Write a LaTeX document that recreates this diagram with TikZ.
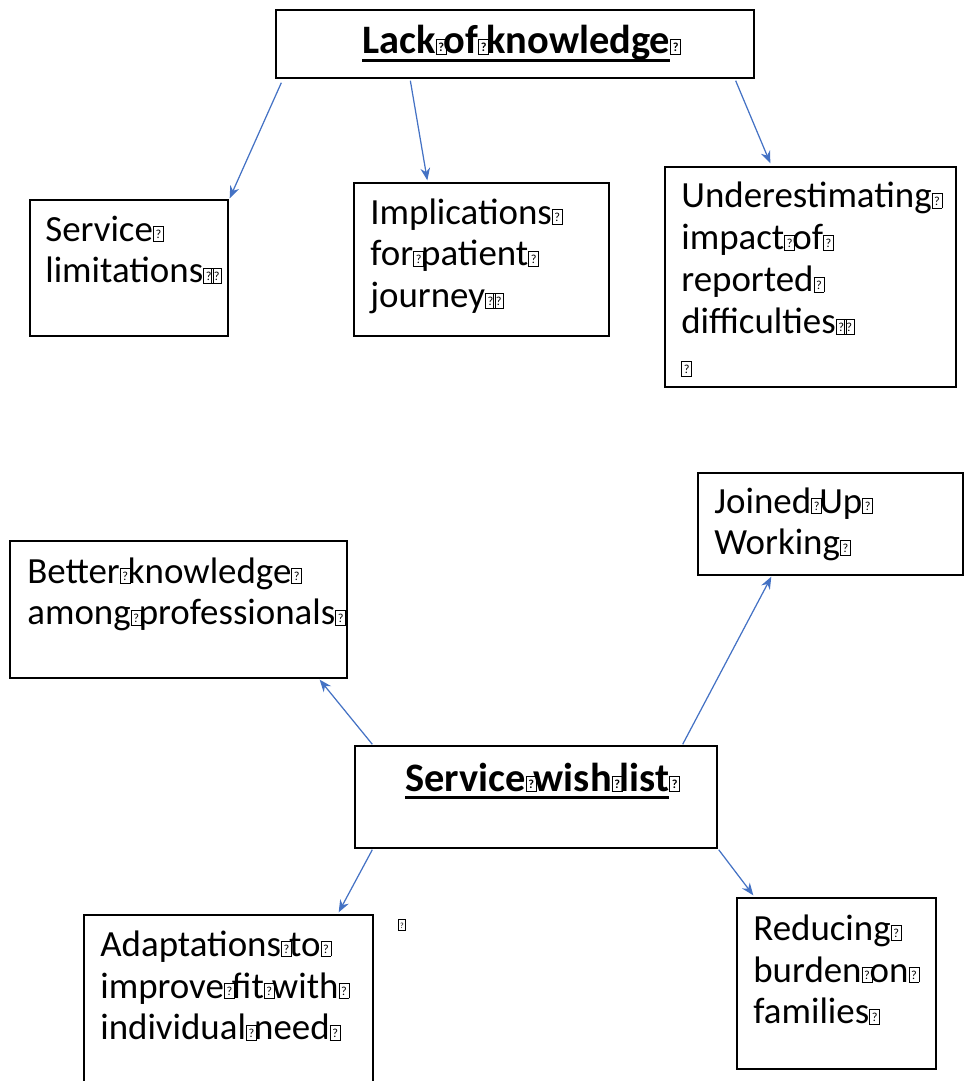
\documentclass[tikz,border=0pt]{standalone}
\usepackage{fontspec}
\setmainfont{Carlito}
\usetikzlibrary{arrows.meta}
\definecolor{arrblue}{HTML}{4472C4}
\newcommand\qbox[1]{\makebox[4.2pt][l]{\setlength\fboxsep{0pt}\setlength\fboxrule{0.5pt}\fbox{\makebox[5.2pt]{\rule{0pt}{8.2pt}\raisebox{1.6pt}{\fontsize{7}{7}\selectfont #1}}}}\hspace{0.4pt}}
\newcommand\qb{\qbox{?}}
\newcommand\qbsmall{\setlength\fboxsep{0pt}\setlength\fboxrule{0.45pt}\fbox{\makebox[3.2pt]{\rule{0pt}{5.4pt}\raisebox{0.8pt}{\fontsize{4.5}{4.5}\selectfont ?}}}}
\newcommand\thickul[1]{\setbox0\hbox{#1}\rlap{\rule[-4.6pt]{\wd0}{1.5pt}}\box0}
\begin{document}
\begin{tikzpicture}[x=0.02cm,y=-0.02cm,
  box/.style={draw=black,line width=0.8pt,rectangle,inner sep=0pt},
  txt/.style={anchor=base west,inner sep=0pt,text width=6.5cm,align=left,font=\fontsize{21}{23.9}\selectfont},
  head/.style={anchor=base,inner sep=0pt,font=\fontsize{23}{26}\selectfont\bfseries},
  arr/.style={draw=arrblue,line width=0.7pt,-{Stealth[length=7pt,width=5.5pt]}}]
\useasboundingbox (0,0) rectangle (964,1081);
\clip (0,0) rectangle (964,1081);
% boxes
\node[box,minimum width=9.56cm,minimum height=1.36cm] (T) at (515,44) {};
\node[box,minimum width=3.96cm,minimum height=2.72cm] (S1) at (129,268) {};
\node[box,minimum width=5.10cm,minimum height=3.06cm] (S2) at (481.5,259.5) {};
\node[box,minimum width=5.82cm,minimum height=4.40cm] (S3) at (810.5,277) {};
\node[box,minimum width=5.30cm,minimum height=2.04cm] (J) at (830.5,524) {};
\node[box,minimum width=6.74cm,minimum height=2.74cm] (B) at (178.5,609.5) {};
\node[box,minimum width=7.24cm,minimum height=2.04cm] (W) at (536,797) {};
\node[box,minimum width=5.78cm,minimum height=3.60cm] (A) at (228.5,1005) {};
\node[box,minimum width=3.98cm,minimum height=3.42cm] (R) at (836.5,983.5) {};
% texts
\node[head] (Tt) at (520,54) {\thickul{Lack\qb of\qb knowledge}\qb};
\node[head] (Wt) at (541,791) {\thickul{Service\qb wish\qb list}\qb};
\node[txt] (S1t) at (45,241) {Service\qb\\limitations\qb\qb};
\node[txt] (S2t) at (370,224) {Implications\qb\\for\qb patient\qb\\journey\qb\qb};
\node[txt] (S3t) at (681,208) {Underestimating\qb\\impact\qb of\qb\\reported\qb\\difficulties\qb\qb\\\qb};
\node[txt] (Jt) at (714,513) {Joined\qb Up\qb\\Working\qb};
\node[txt] (Bt) at (27,583) {Better\qb knowledge\qb\\among\qb professionals\qb};
\node[txt] (At) at (100,956) {Adaptations\qb to\qb\\improve\qb fit\qb with\qb\\individual\qb need\qb};
\node[txt] (Rt) at (753,940) {Reducing\qb\\burden\qb on\qb\\families\qb};
\node[inner sep=0pt] (lone) at (402,925) {\qbsmall};
% connectors
\draw[arr] ([shift={(6,4)}]T.south west) -- ([shift={(1,-1)}]S1.north east);
\draw[arr] ([shift={(135,2)}]T.south west) -- ([shift={(74,-2)}]S2.north west);
\draw[arr] ([shift={(-19,2)}]T.south east) -- ([shift={(106,-3)}]S3.north west);
\draw[arr] ([shift={(18,-1)}]W.north west) -- ([shift={(-28,1)}]B.south east);
\draw[arr] ([shift={(-35,-1)}]W.north east) -- ([shift={(74,1)}]J.south west);
\draw[arr] ([shift={(18,1)}]W.south west) -- ([shift={(-35,-2)}]A.north east);
\draw[arr] ([shift={(1,1)}]W.south east) -- ([shift={(17,-2)}]R.north west);
\end{tikzpicture}
\end{document}
